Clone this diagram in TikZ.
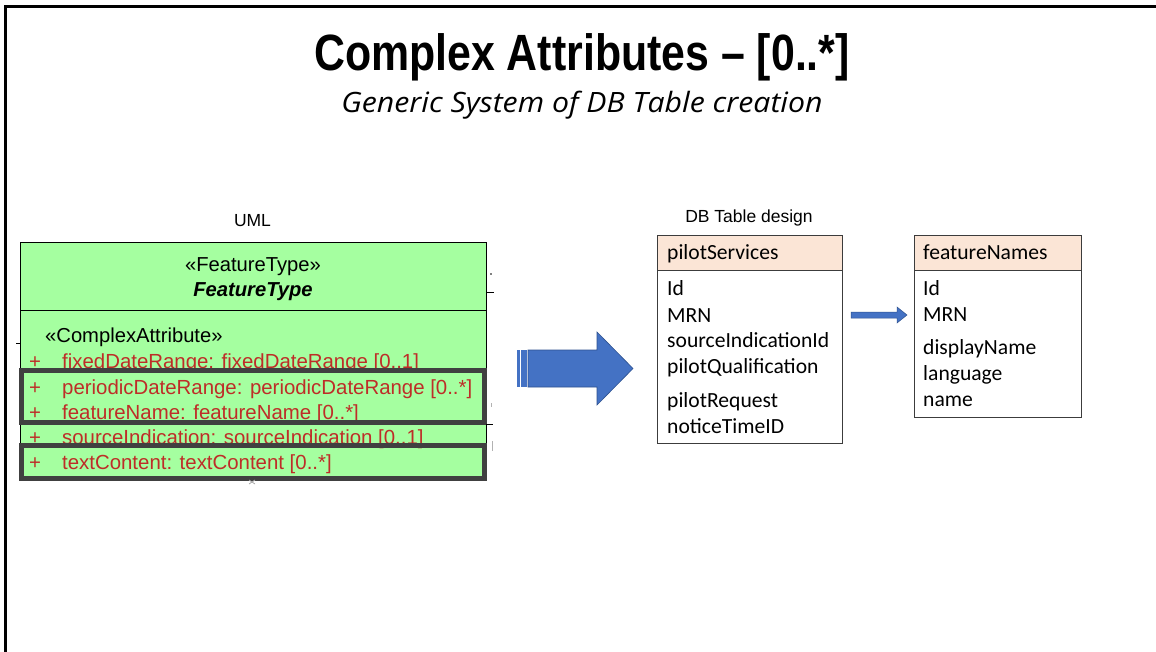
\documentclass[tikz,border=0pt]{standalone}
\usepackage{fontspec}
\setmainfont{Liberation Sans}
\newfontfamily\calibri{Carlito}
\newfontfamily\opensans{Open Sans}
\usepackage{graphicx}
\definecolor{umlgreen}{RGB}{165,255,160}
\definecolor{umlred}{RGB}{190,45,40}
\definecolor{darkbox}{RGB}{64,64,64}
\definecolor{peach}{RGB}{251,229,214}
\definecolor{arrowblue}{RGB}{68,114,196}
\definecolor{arrowedge}{RGB}{47,82,143}
\definecolor{tableline}{RGB}{60,60,60}
\begin{document}
\begin{tikzpicture}[x=1pt,y=-1pt,
  umltext/.style={anchor=base west, inner sep=0pt, font=\fontsize{20.4}{24}\selectfont, text=umlred},
  umlplain/.style={inner sep=0pt, font=\fontsize{20.2}{24}\selectfont},
  dbtext/.style={anchor=base west, inner sep=0pt, font=\calibri\fontsize{21.6}{25}\selectfont},
  tablebox/.style={draw=tableline, line width=1.1pt, fill=white, inner sep=0pt, anchor=north west},
  tablehead/.style={draw=tableline, line width=1.1pt, fill=peach, inner sep=0pt, anchor=north west},
  hilite/.style={draw=darkbox, line width=5pt},
  caption/.style={anchor=base, inner sep=0pt, font=\fontsize{17.5}{20}\selectfont}]
\useasboundingbox (0,0) rectangle (1156,652);
\fill[white] (0,0) rectangle (1156,652);
\draw[line width=3pt] (5.5,652) -- (5.5,6.5) -- (1156,6.5);

% titles
\node[anchor=base, inner sep=0pt] (title) at (582,71)
  {\fontsize{51}{55}\selectfont\bfseries\scalebox{0.84}[1]{Complex Attributes – [0..*]}};
\node[anchor=base, inner sep=0pt] (subtitle) at (582,113)
  {\opensans\itshape\fontsize{28}{32}\selectfont\scalebox{1.08}[1]{Generic System of DB Table creation}};

% UML class
\node[caption] (umllabel) at (252.5,227) {UML};
\node[draw=black, line width=0.9pt, fill=umlgreen, inner sep=0pt, anchor=north west,
      minimum width=466pt, minimum height=237pt] (uml) at (20,242) {};
\draw[line width=0.9pt] (uml.west |- 0,310) -- (uml.east |- 0,310);
\node[umlplain, anchor=base] (stereo) at (253,272) {«FeatureType»};
\node[umlplain, anchor=base, font=\fontsize{20.2}{24}\selectfont\bfseries\itshape] (cname) at (253,297) {FeatureType};
\node[umlplain, anchor=base west] (cattr) at (45,342) {«ComplexAttribute»};

\foreach \y/\t [count=\i] in {368/{fixedDateRange: fixedDateRange [0..1]},
    394/{periodicDateRange: periodicDateRange [0..*]},
    419/{featureName: featureName [0..*]},
    444/{sourceIndication: sourceIndication [0..1]},
    469/{textContent: textContent [0..*]}} {
  \node[umltext] (plus\i) at (29,\y) {+};
  \node[umltext] (attr\i) at (62,\y) {\t};
}

% highlight frames
\draw[hilite] (21.5,370.5) rectangle (484.5,422.5);
\draw[hilite] (21.5,445.5) rectangle (484.5,478.5);

% cut-off fragments around the class
\draw[line width=0.9pt] (486,292) -- (494,292);
\draw[line width=0.9pt] (486,424) -- (493,424);
\draw[line width=0.9pt] (16,343) -- (20,343);
\fill (491,274) circle (0.9pt);
\draw[gray!60, line width=0.8pt] (492,441) -- (492,451);
\draw[gray!60, line width=0.8pt] (491,403) -- (491,407);
\draw[gray!70, line width=0.8pt] (249,480) -- (255,484) (255,480) -- (249,484);

% big block arrow
\fill[arrowblue] (517,350) rectangle (519.5,387);
\fill[arrowblue] (521,350) rectangle (526.5,387);
\filldraw[fill=arrowblue, draw=arrowedge, line width=0.6pt]
  (528,350) -- (597,350) -- (597,332) -- (633,368.5) -- (597,405) -- (597,387) -- (528,387) -- cycle;

% DB tables
\node[caption] (dblabel) at (749,223) {DB Table design};

\node[tablebox, minimum width=185pt, minimum height=208pt] (ps) at (657,235) {};
\node[tablehead, minimum width=185pt, minimum height=35pt] (psh) at (657,235) {};
\node[dbtext] (psname) at (667,260) {pilotServices};
\foreach \y/\t [count=\i] in {295/Id, 322/MRN, 347/sourceIndicationId, 373/pilotQualification,
    407/pilotRequest, 433/noticeTimeID} {
  \node[dbtext] (psf\i) at (667,\y) {\t};
}

\node[tablebox, minimum width=167pt, minimum height=182pt] (fn) at (914,235) {};
\node[tablehead, minimum width=167pt, minimum height=35pt] (fnh) at (914,235) {};
\node[dbtext] (fnname) at (923,260) {featureNames};
\foreach \y/\t [count=\i] in {295/Id, 321/MRN, 354/displayName, 380/language, 406/name} {
  \node[dbtext] (fnf\i) at (923,\y) {\t};
}

% small arrow from pilotServices to featureNames
\coordinate (sa) at ([xshift=8pt]ps.east |- 0,315);
\coordinate (sb) at ([xshift=-7pt]fn.west |- 0,315);
\filldraw[fill=arrowblue, draw=arrowedge, line width=0.5pt]
  ([yshift=3pt]sa) -- ([xshift=-10pt,yshift=3pt]sb) -- ([xshift=-10pt,yshift=8pt]sb) -- (sb)
  -- ([xshift=-10pt,yshift=-8pt]sb) -- ([xshift=-10pt,yshift=-3pt]sb) -- ([yshift=-3pt]sa) -- cycle;
\end{tikzpicture}
\end{document}
